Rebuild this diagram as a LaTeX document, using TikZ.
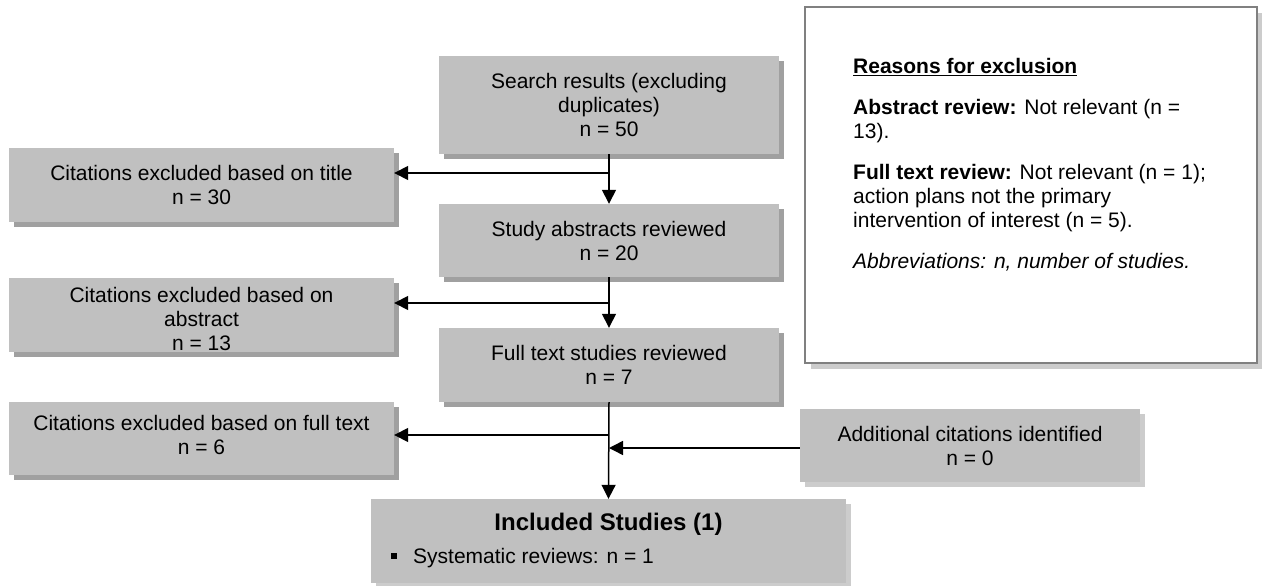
\documentclass[tikz,border=0pt]{standalone}
\usepackage{fontspec}
\setmainfont{Liberation Sans}
\usetikzlibrary{arrows.meta,shadows}
\definecolor{boxgray}{HTML}{C0C0C0}
\definecolor{shadowdark}{HTML}{A0A0A0}
\definecolor{shadowlight}{HTML}{CCCCCC}
\definecolor{bordergray}{HTML}{808080}
\begin{document}
\begin{tikzpicture}[x=1pt,y=-1pt,
  every node/.style={font=\fontsize{21}{24}\selectfont},
  flowbox/.style={fill=boxgray, inner sep=0pt, align=center,
    general shadow={shadow xshift=5pt, shadow yshift=-5pt, fill=shadowdark}},
  lightbox/.style={fill=boxgray, inner sep=0pt, align=center,
    general shadow={shadow xshift=5pt, shadow yshift=-5pt, fill=shadowlight}},
  wide/.style={minimum width=340pt},
  side/.style={minimum width=385pt},
  plaintext/.style={inner sep=0pt, align=center},
  conn/.style={line width=1.5pt, draw=black},
  arr/.style={conn, -{Triangle[length=14pt,width=14pt]}}
]
\useasboundingbox (0,0) rectangle (1262,586);

% reasons box
\node[draw=bordergray, line width=2pt, fill=white, minimum width=452pt, minimum height=356pt,
  inner sep=0pt, anchor=north west,
  general shadow={shadow xshift=6pt, shadow yshift=-6pt, fill=shadowlight}] (reasons) at (804,6) {};
\node[anchor=north west, align=left, inner sep=0pt] (reasonstext) at (853,58)
 {\textbf{\underline{Reasons for exclusion}}\\[17pt]
  \textbf{Abstract review:} Not relevant (n =\\
  13).\\[17pt]
  \textbf{Full text review:} Not relevant (n = 1);\\
  action plans not the primary\\
  intervention of interest (n = 5).\\[17pt]
  \textit{Abbreviations: n, number of studies.}};

% main flow
\node[flowbox, wide, minimum height=98pt] (search) at (609,105)
  {Search results (excluding\\duplicates)\\n = 50};
\node[flowbox, side, minimum height=74pt] (title) at (201.5,185)
  {Citations excluded based on title\\n = 30};
\node[flowbox, wide, minimum height=73pt] (study) at (609,240.5)
  {Study abstracts reviewed\\n = 20};
\node[flowbox, side, minimum height=74pt] (abs) at (201.5,315) {};
\node[plaintext] (abstext) at (201.5,319)
  {Citations excluded based on\\abstract\\n = 13};
\node[flowbox, wide, minimum height=74pt] (full) at (609,365)
  {Full text studies reviewed\\n = 7};
\node[flowbox, side, minimum height=73pt] (fullex) at (201.5,438.5) {};
\node[plaintext] (fullextext) at (201.5,435)
  {Citations excluded based on full text\\n = 6};
\node[lightbox, minimum width=340pt, minimum height=73pt] (add) at (970,445.5)
  {Additional citations identified\\n = 0};
\node[lightbox, minimum width=475pt, minimum height=84pt] (inc) at (608.5,541) {};
\node[inner sep=0pt, font=\fontsize{24}{28}\selectfont\bfseries] (inctitle) at (608.5,524) {Included Studies (1)};
\node[anchor=west, inner sep=0pt] (incitem) at (391,558)
  {\raisebox{4pt}{\rule{6pt}{6pt}}\hspace{16pt}Systematic reviews: n = 1};

% junction coordinates
\coordinate (j1) at (609,173);
\coordinate (j2) at (609,303);
\coordinate (j3) at (609,435);
\coordinate (j4) at (609,448);

% connectors
\draw[arr] (search.south) -- (study.north);
\draw[arr] (j1) -- (title.east |- j1);
\draw[arr] (study.south) -- (full.north);
\draw[arr] (j2) -- (abs.east |- j2);
\draw[arr] (full.south) -- (inc.north);
\draw[arr] (j3) -- (fullex.east |- j3);
\draw[arr] (add.west |- j4) -- (j4);
\end{tikzpicture}
\end{document}
